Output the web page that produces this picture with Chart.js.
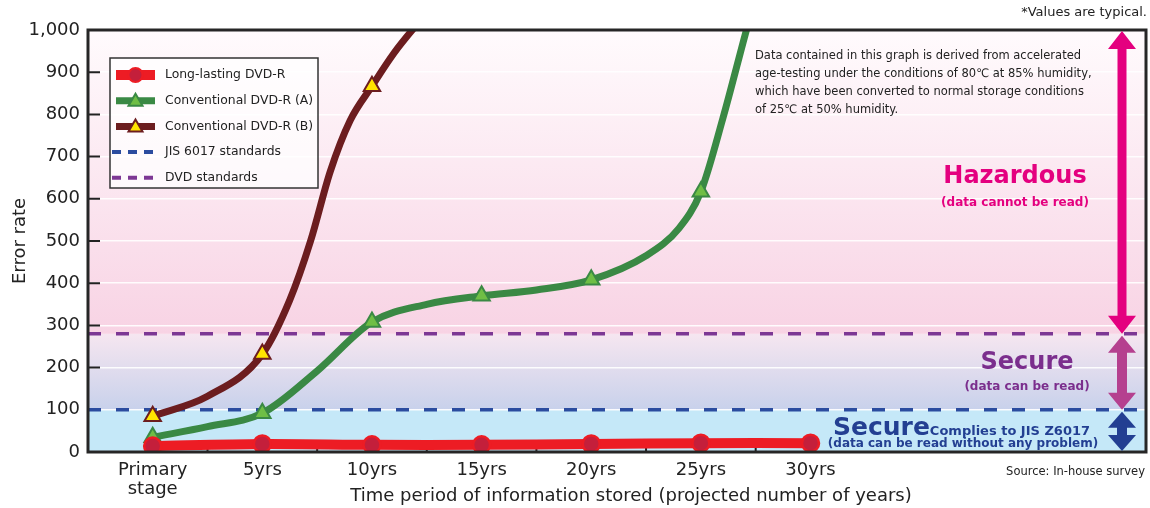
<!DOCTYPE html>
<html lang="en">
<head>
<meta charset="UTF-8">
<title>Error rate vs. storage period</title>
<script src="https://cdn.jsdelivr.net/npm/chart.js"></script>
<style>
  html, body { margin: 0; padding: 0; background: #fff; }
</style>
</head>
<body>
<canvas id="errChart" width="1150" height="508"></canvas>
<script>
// stages along the x axis (years)
const stageYears = [0, 5, 10, 15, 20, 25, 30];
const stageLabels = [['Primary', 'stage'], '5yrs', '10yrs', '15yrs', '20yrs', '25yrs', '30yrs'];

// long-lasting disc, one value per stage
const longLastingValues = [14, 19, 17, 17, 19, 21, 21];

// conventional discs (markers sit on the stage years)
const convAYears  = [0, 2.5, 5, 7.5, 10, 12.5, 15, 17.5, 20, 22.5, 24, 25, 26, 27, 27.6];
const convAValues = [35, 60, 92, 192, 308, 350, 370, 384, 408, 465, 530, 617, 790, 985, 1100];

const convBYears  = [0, 2.5, 5, 6.25, 7.2, 8.1, 9, 10, 11, 12, 12.5];
const convBValues = [85, 132, 232, 360, 500, 665, 785, 867, 945, 1010, 1040];

// standards
const jisLimit = 100;
const dvdLimit = 280;

const xTitle = 'Time period of information stored (projected number of years)';

const X_MIN = -2.95, X_MAX = 45.3;
const FONT = '"DejaVu Sans", sans-serif';

const pts = (xs, ys) => xs.map((x, i) => ({ x: x, y: ys[i] }));
const markerAt = r => ctx => (ctx.raw && stageYears.includes(ctx.raw.x)) ? r : 0;

// coloured bands behind the plot
const backdrop = {
  id: 'backdrop',
  beforeDraw(chart) {
    const { ctx, chartArea: a, scales: { y } } = chart;
    const y0 = y.getPixelForValue(0), y1 = y.getPixelForValue(jisLimit);
    const y2 = y.getPixelForValue(dvdLimit), y3 = y.getPixelForValue(1000);
    ctx.save();
    ctx.fillStyle = '#c5e8f8';
    ctx.fillRect(a.left, y1, a.width, y0 - y1);
    let g = ctx.createLinearGradient(0, y1, 0, y2);
    g.addColorStop(0, '#c8d1eb');
    g.addColorStop(1, '#f6e6f0');
    ctx.fillStyle = g;
    ctx.fillRect(a.left, y2, a.width, y1 - y2);
    g = ctx.createLinearGradient(0, y2, 0, y3);
    g.addColorStop(0, '#f8d3e4');
    g.addColorStop(1, '#fffbfd');
    ctx.fillStyle = g;
    ctx.fillRect(a.left, y3, a.width, y2 - y3);
    ctx.restore();
  },
  beforeDatasetsDraw(chart) {
    // small inward tick marks
    const { ctx, chartArea: a, scales: { x, y } } = chart;
    ctx.save();
    ctx.strokeStyle = '#222';
    ctx.lineWidth = 2;
    ctx.beginPath();
    for (let v = 100; v < 1000; v += 100) {
      const py = y.getPixelForValue(v);
      ctx.moveTo(a.left, py); ctx.lineTo(a.left + 12, py);
    }
    for (let v = 2.5; v < 30; v += 5) {
      const px = x.getPixelForValue(v);
      ctx.moveTo(px, a.bottom); ctx.lineTo(px, a.bottom - 6);
    }
    ctx.stroke();
    ctx.restore();
  }
};

function arrow(ctx, x, top, bot, color, hw, hh, sw) {
  ctx.fillStyle = color;
  ctx.beginPath();
  ctx.moveTo(x, top);
  ctx.lineTo(x + hw / 2, top + hh);
  ctx.lineTo(x + sw / 2, top + hh);
  ctx.lineTo(x + sw / 2, bot - hh);
  ctx.lineTo(x + hw / 2, bot - hh);
  ctx.lineTo(x, bot);
  ctx.lineTo(x - hw / 2, bot - hh);
  ctx.lineTo(x - sw / 2, bot - hh);
  ctx.lineTo(x - sw / 2, top + hh);
  ctx.lineTo(x - hw / 2, top + hh);
  ctx.closePath();
  ctx.fill();
}

// frame, legend, arrows and notes
const overlay = {
  id: 'overlay',
  afterDatasetsDraw(chart) {
    const { ctx, chartArea: a, scales: { y } } = chart;
    ctx.save();

    // frame
    ctx.strokeStyle = '#262626';
    ctx.lineWidth = 3;
    ctx.strokeRect(a.left, a.top, a.width, a.height);

    // legend box
    const lx = a.left + 22, ly = a.top + 28;
    ctx.fillStyle = 'rgba(255,255,255,0.75)';
    ctx.fillRect(lx, ly, 208, 130);
    ctx.strokeStyle = '#333';
    ctx.lineWidth = 1.5;
    ctx.strokeRect(lx, ly, 208, 130);
    chart.data.datasets.forEach((ds, i) => {
      const cy = ly + 17 + i * 25.7;
      const x1 = lx + 6, x2 = lx + 45, cx = (x1 + x2) / 2;
      ctx.save();
      ctx.strokeStyle = ds.borderColor;
      ctx.lineWidth = ds.borderDash ? 4 : ds.borderWidth;
      if (ds.borderDash) ctx.setLineDash([9, 7]);
      ctx.beginPath();
      ctx.moveTo(ds.borderDash ? x1 - 4 : x1, cy);
      ctx.lineTo(x2, cy);
      ctx.stroke();
      ctx.restore();
      if (!ds.borderDash) {
        ctx.fillStyle = ds.pointBackgroundColor;
        ctx.strokeStyle = ds.pointBorderColor;
        ctx.lineWidth = 2;
        ctx.beginPath();
        if (ds.pointStyle === 'triangle') {
          ctx.moveTo(cx, cy - 7);
          ctx.lineTo(cx + 7, cy + 5);
          ctx.lineTo(cx - 7, cy + 5);
          ctx.closePath();
        } else {
          ctx.arc(cx, cy, 7, 0, Math.PI * 2);
        }
        ctx.fill();
        ctx.stroke();
      }
      ctx.fillStyle = '#222';
      ctx.font = '12.4px ' + FONT;
      ctx.textAlign = 'left';
      ctx.textBaseline = 'middle';
      ctx.fillText(ds.label, lx + 55, cy);
    });

    // arrows on the right
    const ax = a.right - 24;
    const yTop = y.getPixelForValue(1000), yDvd = y.getPixelForValue(dvdLimit);
    const yJis = y.getPixelForValue(jisLimit), yZero = y.getPixelForValue(0);
    arrow(ctx, ax, yTop + 1, yDvd, '#e4007f', 28, 18, 9);
    arrow(ctx, ax, yDvd + 2, yJis, '#b5408f', 28, 17, 10);
    arrow(ctx, ax, yJis + 2, yZero - 1, '#233f92', 28, 16, 10);

    // band labels
    ctx.textAlign = 'center';
    ctx.textBaseline = 'middle';
    ctx.fillStyle = '#e4007f';
    ctx.font = 'bold 24px ' + FONT;
    ctx.fillText('Hazardous', 1015, 177);
    ctx.font = 'bold 12px ' + FONT;
    ctx.fillText('(data cannot be read)', 1015, 203);

    ctx.fillStyle = '#7b2e8d';
    ctx.font = 'bold 24px ' + FONT;
    ctx.fillText('Secure', 1027, 363);
    ctx.font = 'bold 12px ' + FONT;
    ctx.fillText('(data can be read)', 1027, 387);

    ctx.fillStyle = '#233f92';
    ctx.textAlign = 'left';
    ctx.textBaseline = 'alphabetic';
    ctx.font = 'bold 25px ' + FONT;
    ctx.fillText('Secure', 833, 435);
    const sw = ctx.measureText('Secure').width;
    ctx.font = 'bold 13px ' + FONT;
    ctx.fillText('Complies to JIS Z6017', 833 + sw, 435);
    ctx.textAlign = 'center';
    ctx.textBaseline = 'middle';
    ctx.font = 'bold 12px ' + FONT;
    ctx.fillText('(data can be read without any problem)', 963, 444);

    // method note
    ctx.fillStyle = '#222';
    ctx.textAlign = 'left';
    ctx.font = '11.5px ' + FONT;
    const note = [
      'Data contained in this graph is derived from accelerated',
      'age-testing under the conditions of 80\u2103 at 85% humidity,',
      'which have been converted to normal storage conditions',
      'of 25\u2103 at 50% humidity.'
    ];
    note.forEach((t, i) => ctx.fillText(t, 755, 56 + i * 18));

    ctx.textAlign = 'right';
    ctx.font = '13px ' + FONT;
    ctx.fillText('*Values are typical.', 1147, 13);
    ctx.font = '11.5px ' + FONT;
    ctx.fillText('Source: In-house survey', 1145, 472);

    // x axis title (sits a little right of the plot centre in the original)
    ctx.textAlign = 'center';
    ctx.font = '18px ' + FONT;
    ctx.fillText(xTitle, 631, 496);

    ctx.restore();
  }
};

new Chart(document.getElementById('errChart'), {
  type: 'line',
  data: {
    datasets: [
      {
        label: 'Long-lasting DVD-R',
        data: pts(stageYears, longLastingValues),
        borderColor: '#ed1c24',
        borderWidth: 10,
        pointRadius: 8.5,
        pointBackgroundColor: '#c41f3b',
        pointBorderColor: '#ed1c24',
        pointBorderWidth: 2.5,
        tension: 0.3
      },
      {
        label: 'Conventional DVD-R (A)',
        data: pts(convAYears, convAValues),
        borderColor: '#3a8944',
        borderWidth: 7,
        pointStyle: 'triangle',
        pointRadius: markerAt(9.5),
        pointBackgroundColor: '#6fbe45',
        pointBorderColor: '#3a8944',
        pointBorderWidth: 2,
        cubicInterpolationMode: 'monotone'
      },
      {
        label: 'Conventional DVD-R (B)',
        data: pts(convBYears, convBValues),
        borderColor: '#6c1d1f',
        borderWidth: 7,
        pointStyle: 'triangle',
        pointRadius: markerAt(9.5),
        pointBackgroundColor: '#ffe400',
        pointBorderColor: '#6c1d1f',
        pointBorderWidth: 2,
        cubicInterpolationMode: 'monotone'
      },
      {
        label: 'JIS 6017 standards',
        data: [{ x: X_MIN, y: jisLimit }, { x: X_MAX, y: jisLimit }],
        borderColor: '#2b4c9f',
        borderWidth: 3.5,
        borderDash: [13, 15],
        pointRadius: 0
      },
      {
        label: 'DVD standards',
        data: [{ x: X_MIN, y: dvdLimit }, { x: X_MAX, y: dvdLimit }],
        borderColor: '#7d3794',
        borderWidth: 3.5,
        borderDash: [13, 15],
        pointRadius: 0
      }
    ]
  },
  options: {
    responsive: false,
    animation: false,
    layout: { autoPadding: false, padding: { top: 30, right: 4, left: 0, bottom: 0 } },
    plugins: { legend: { display: false }, tooltip: { enabled: false } },
    scales: {
      x: {
        type: 'linear',
        min: X_MIN,
        max: X_MAX,
        afterBuildTicks: s => { s.ticks = stageYears.map(v => ({ value: v })); },
        afterFit: s => { s.height = 56; s.paddingLeft = 0; s.paddingRight = 0; },
        grid: { display: false },
        border: { display: false },
        ticks: {
          autoSkip: false,
          maxRotation: 0,
          padding: 1,
          color: '#222',
          font: { family: FONT, size: 18, lineHeight: 1.05 },
          callback: v => stageLabels[stageYears.indexOf(v)]
        }
      },
      y: {
        min: 0,
        max: 1000,
        afterFit: s => { s.width = 88; },
        grid: { color: 'rgba(255,255,255,0.9)', lineWidth: 1.5, drawTicks: false },
        border: { display: false },
        ticks: {
          stepSize: 100,
          padding: 8,
          color: '#222',
          font: { family: FONT, size: 18 },
          callback: v => v.toLocaleString('en-US')
        },
        title: {
          display: true,
          text: 'Error rate',
          color: '#222',
          font: { family: FONT, size: 18 },
          padding: { top: 10, bottom: 0 }
        }
      }
    }
  },
  plugins: [backdrop, overlay]
});
</script>
</body>
</html>
